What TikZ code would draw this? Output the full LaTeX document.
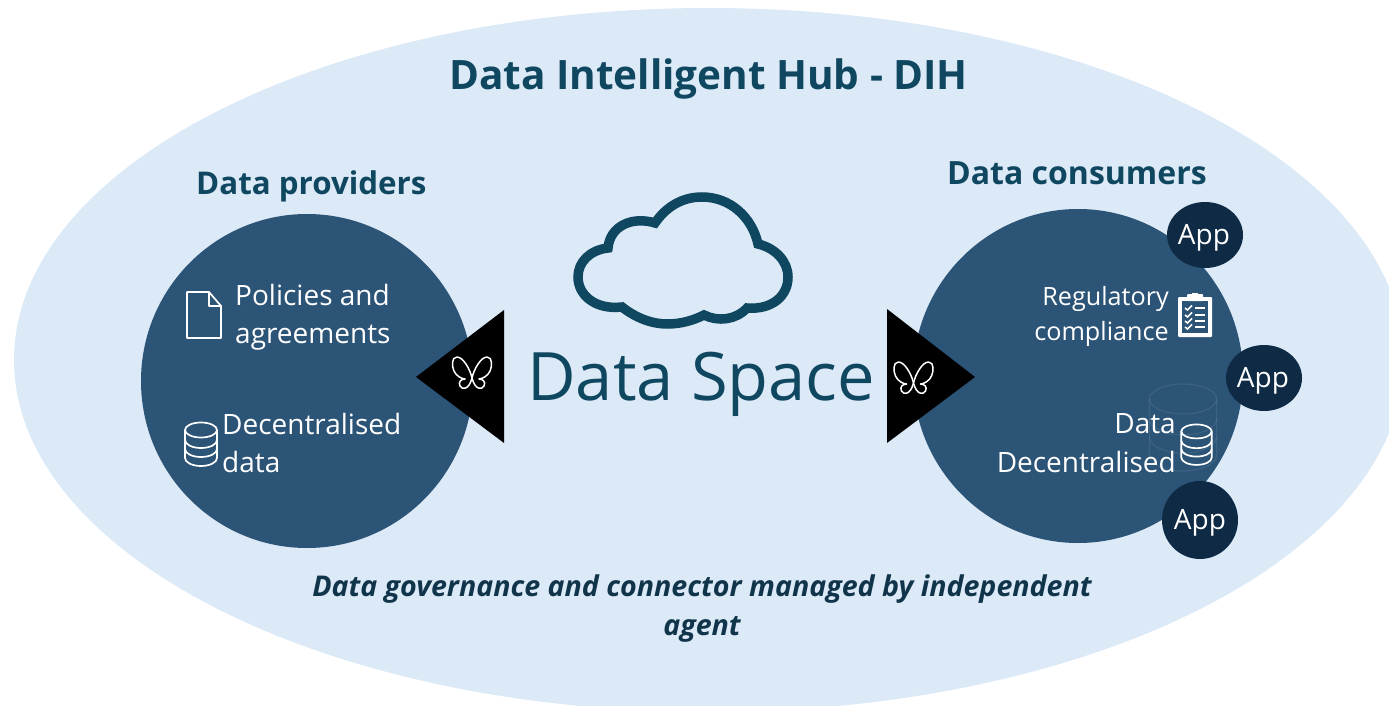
\documentclass[tikz,border=0pt]{standalone}
\usepackage{fontspec}
\setmainfont{Open Sans}
\definecolor{hubfill}{HTML}{DCE9F7}
\definecolor{discfill}{HTML}{2C5477}
\definecolor{appfill}{HTML}{0F2A45}
\definecolor{titlecol}{HTML}{0F4761}
\definecolor{notecol}{HTML}{10344A}
\newcommand{\fs}[1]{\fontsize{#1}{#1}\selectfont}
\usetikzlibrary{shapes.geometric}
\tikzset{
  body/.style={text=white,inner sep=0pt,font=\fs{28}},
  small/.style={text=white,inner sep=0pt,font=\fs{25.2}},
  head/.style={text=titlecol,inner sep=0pt,font=\fs{32}\bfseries},
  appnode/.style={ellipse,fill=appfill,inner sep=0pt,minimum width=76pt,minimum height=66pt},
  applabel/.style={text=white,inner sep=0pt,anchor=base,font=\fs{28}},
  icon/.style={draw=white,line width=1.7pt,line join=round,line cap=round},
  fly/.style={draw=white,line width=1.5pt,line join=round}
}
\newcommand{\dbicon}[5]{% cx top xscale yscale style
  \begin{scope}[shift={(#1,#2)},xscale=#3,yscale=#4]
    \draw[icon,#5] (-16,8) arc[start angle=180,end angle=540,x radius=16,y radius=7.5];
    \draw[icon,#5] (-16,8) -- (-16,36) arc[start angle=180,end angle=0,x radius=16,y radius=8] -- (16,8);
    \draw[icon,#5] (-16,18) arc[start angle=180,end angle=0,x radius=16,y radius=8];
    \draw[icon,#5] (-16,27) arc[start angle=180,end angle=0,x radius=16,y radius=8];
  \end{scope}}
\newcommand{\flyicon}[2]{%
  \begin{scope}[shift={(#1,#2)}]
    \foreach \sx in {-1,1}{
    \draw[fly,xscale=\sx] (0,6) .. controls (-2,-3) and (-9,-15) .. (-15,-15) .. controls (-21,-15) and (-20,-5) .. (-18,-1) .. controls (-16,4) and (-10,7) .. (-7,7) .. controls (-11,7) and (-14,10) .. (-12,14) .. controls (-10,18) and (-3,18) .. (0,6);
    }
  \end{scope}}
\begin{document}
\begin{tikzpicture}[x=1pt,y=-1pt]
\useasboundingbox (0,0) rectangle (1389,706);
\begin{scope}
\clip (0,0) rectangle (1389,706);
\fill[hubfill] (709,360) ellipse[x radius=695,y radius=352];
\end{scope}
\fill[discfill] (307,381) ellipse[x radius=166,y radius=167];
\fill[discfill] (1078,376) ellipse[x radius=165,y radius=167];
\node[appnode] (app1) at (1205,235) {};
\node[appnode] (app2) at (1264,378) {};
\node[appnode,minimum height=78pt] (app3) at (1200,520) {};
\node[applabel] (appt1) at (1204,244) {App};
\node[applabel] (appt2) at (1263,387) {App};
\node[applabel] (appt3) at (1200,529) {App};
\fill[black] (416,377) -- (504,310) -- (504,443) -- cycle;
\fill[black] (975,377) -- (887,309) -- (887,443) -- cycle;
\flyicon{472}{372}
\flyicon{913.5}{377}
% cloud
\draw[titlecol,line width=9.5pt,miter limit=10]
 (608,248) .. controls (590,250) and (578,262) .. (578,277)
 .. controls (578,295) and (595,310) .. (622,307)
 .. controls (636,318) and (652,324) .. (667,324)
 .. controls (680,324) and (692,321) .. (704,315)
 .. controls (718,322) and (736,320) .. (747,308)
 .. controls (772,310) and (788,296) .. (788,277)
 .. controls (788,261) and (775,248) .. (758,244)
 .. controls (752,217) and (730,197) .. (702,197)
 .. controls (682,197) and (666,207) .. (655,223)
 .. controls (632,216) and (610,226) .. (608,248) -- cycle;
\node[inner sep=0pt,anchor=base west,text=titlecol,font=\fs{40.5}\bfseries] (hubt) at (449,90) {Data Intelligent Hub - DIH};
\node[head,anchor=base west,font=\fs{31.3}\bfseries] (prov) at (196,194) {Data providers};
\node[head,anchor=base west] (cons) at (947,184) {Data consumers};
\node[inner sep=0pt,anchor=base west,text=titlecol,font=\fs{66.8}] (space) at (527,400) {Data Space};
\node[body,anchor=base west] (pol1) at (235,305) {Policies and};
\node[body,anchor=base west] (pol2) at (235,343) {agreements};
\node[body,anchor=base west] (dec1) at (222,434) {Decentralised};
\node[body,anchor=base west] (dec2) at (222,472) {data};
\node[small,anchor=base east] (reg1) at (1169,305) {Regulatory};
\node[small,anchor=base east] (reg2) at (1169,340) {compliance};
\node[body,anchor=base east] (dat1) at (1176,433) {Data};
\node[body,anchor=base east] (dat2) at (1176,472) {Decentralised};
\node[inner sep=0pt,anchor=base,text=notecol,font=\fs{28.6}\bfseries\itshape] (note1) at (702,596) {Data governance and connector managed by independent};
\node[inner sep=0pt,anchor=base,text=notecol,font=\fs{28.6}\bfseries\itshape] (note2) at (702,635) {agent};
% document
\draw[icon] (187,292) -- (209,292) -- (221,306) -- (221,338) -- (187,338) -- cycle;
\draw[icon] (209,292) -- (209,306) -- (221,306);
% left db
\dbicon{201}{422}{1}{1}{}
% right db
\begin{scope}[opacity=.08]\dbicon{1183}{383}{2.1}{2}{line width=1.2pt}\end{scope}
\dbicon{1196.5}{424}{.95}{.93}{}
% clipboard
\begin{scope}
\fill[white,rounded corners=1pt] (1178,297) rectangle (1212,337);
\fill[discfill] (1182,301) rectangle (1208,333);
\fill[white,rounded corners=1pt] (1187,294) rectangle (1203,301);
\fill[white] (1192,293) rectangle (1198,296);
\foreach \yy in {308,315,321,327}{
  \fill[white] (1195,\yy-1.4) rectangle (1205,\yy+1.4);
  \draw[white,line width=1.6pt] (1185,\yy) -- (1187.5,\yy+2) -- (1192,\yy-2.5);
}
\end{scope}
\end{tikzpicture}
\end{document}
